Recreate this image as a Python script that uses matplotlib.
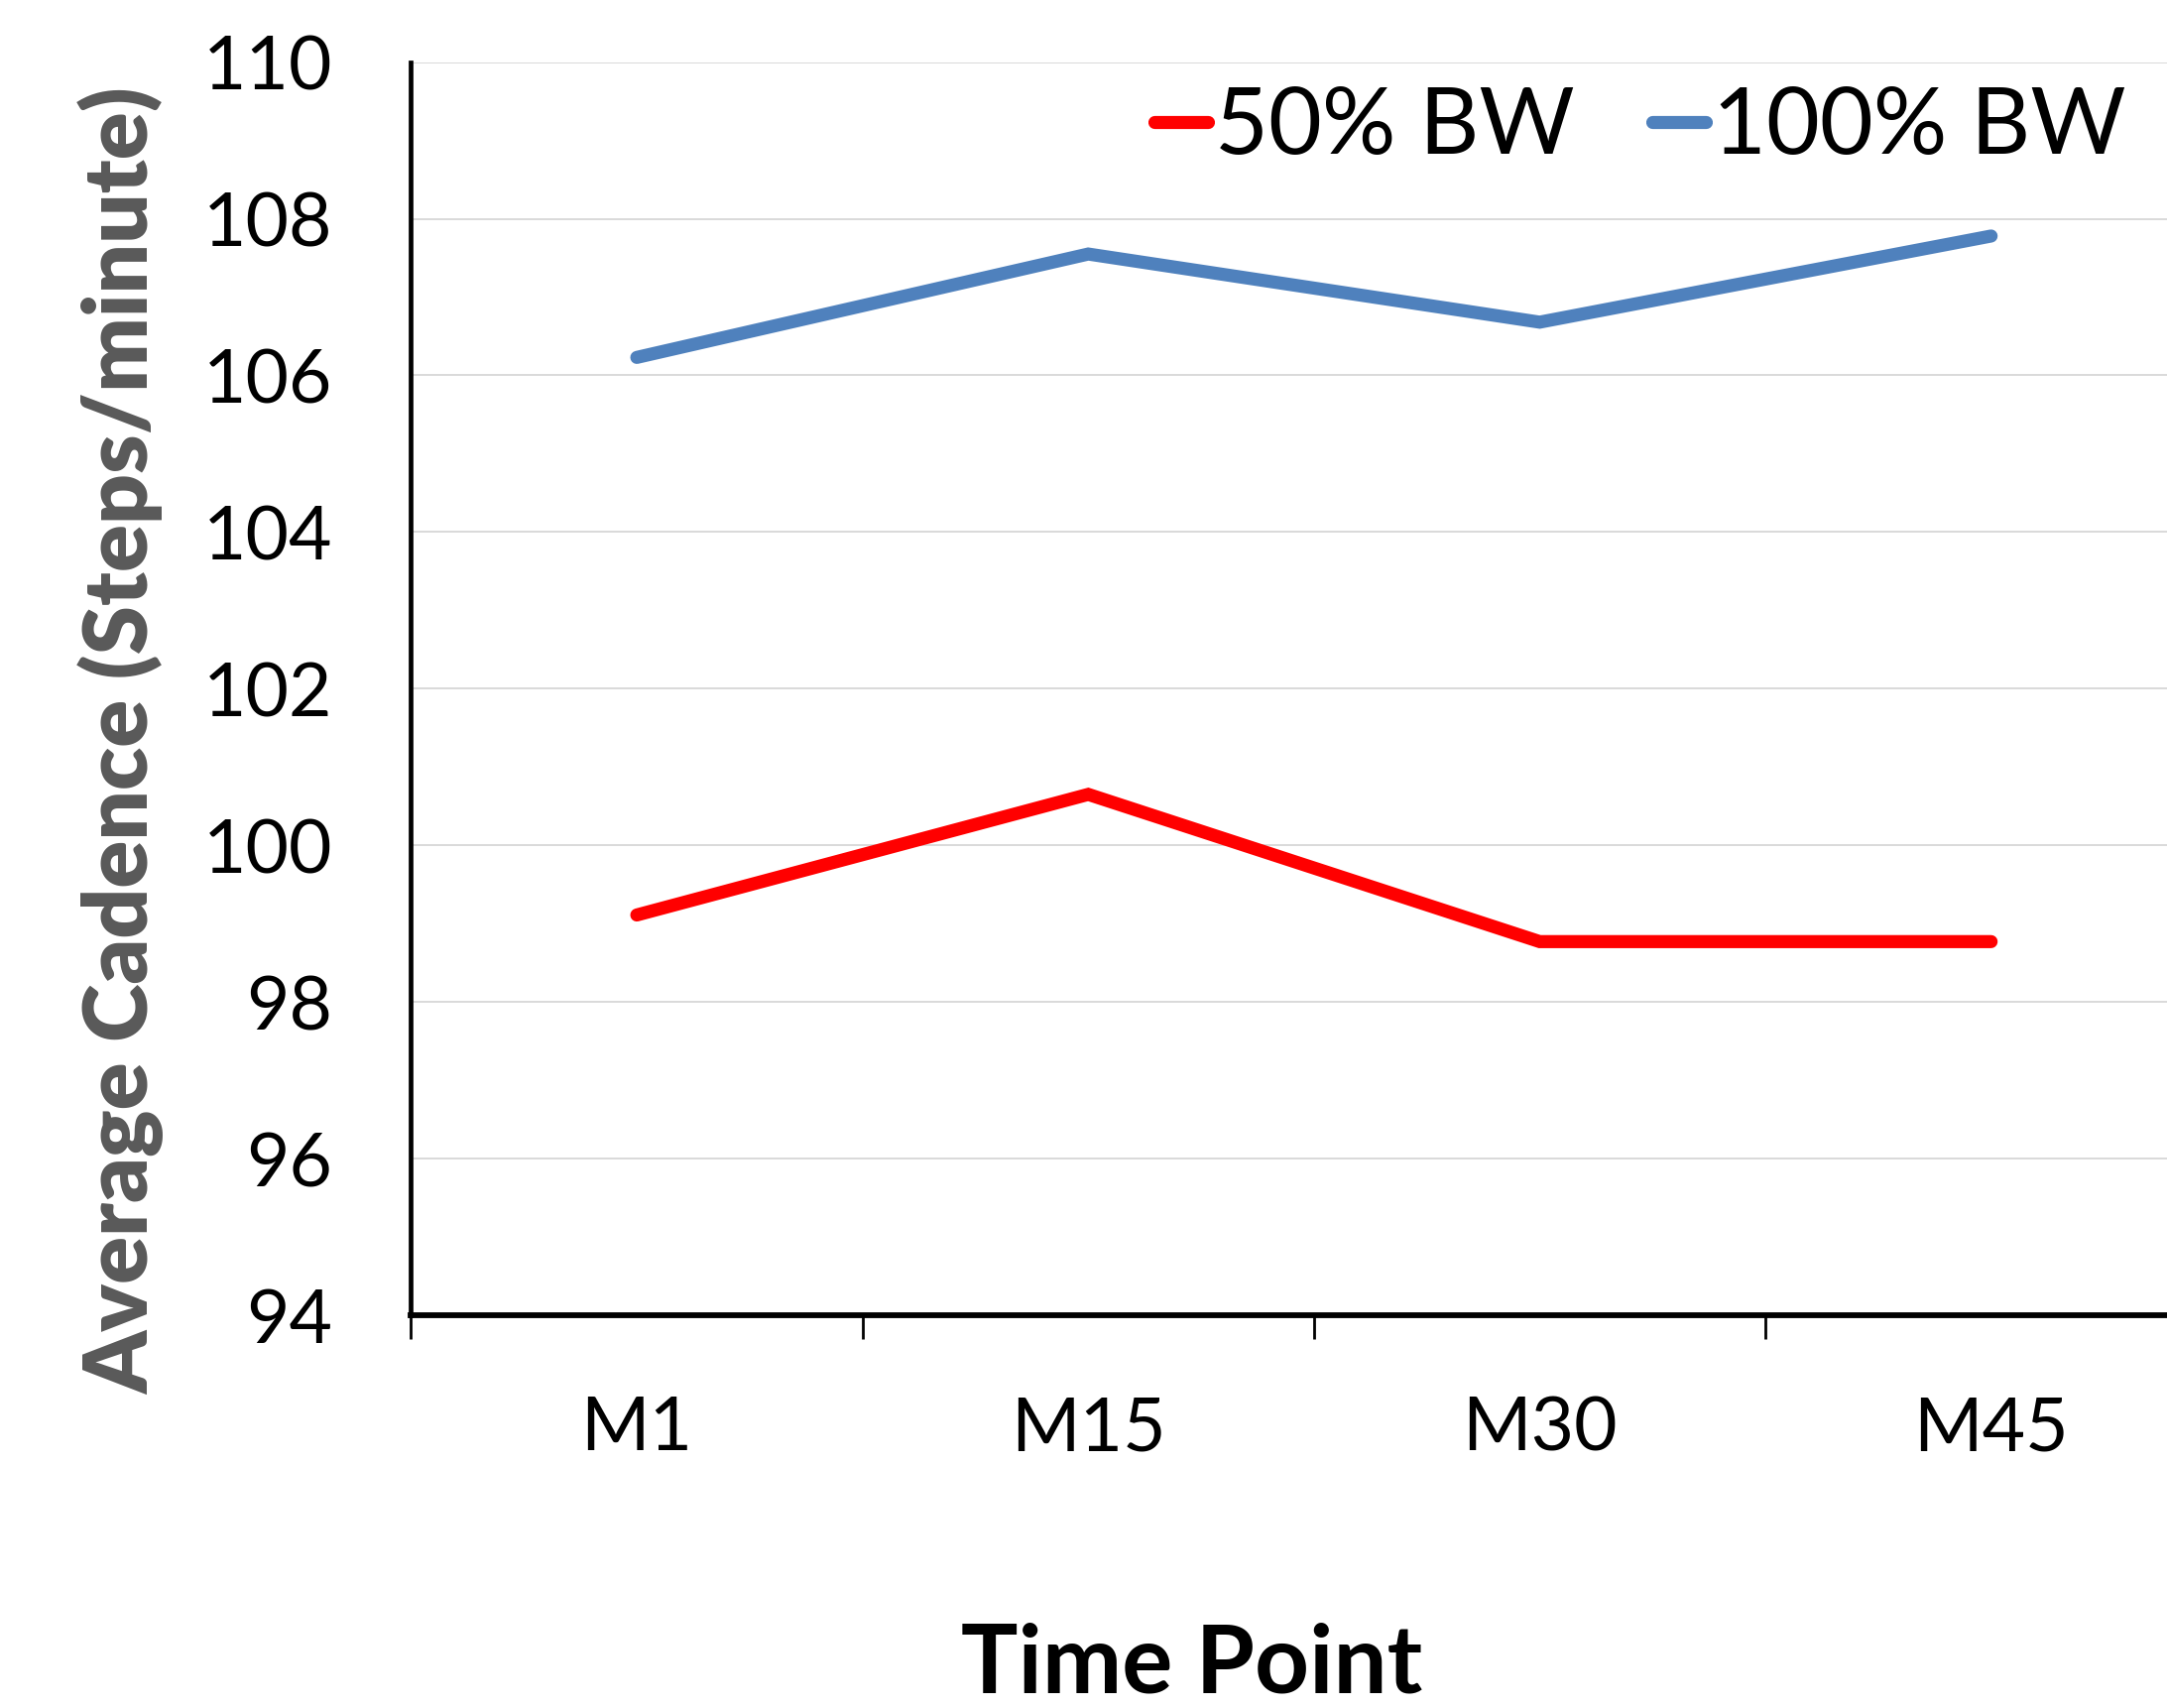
import matplotlib
matplotlib.use("Agg")
import matplotlib.pyplot as plt

# average cadence per time point, two loading conditions
time_points = ["M1", "M15", "M30", "M45"]
bw50 = [99.11, 100.65, 98.77, 98.77]
bw100 = [106.23, 107.55, 106.68, 107.78]
y_ticks = [94, 96, 98, 100, 102, 104, 106, 108, 110]

plt.rcParams['font.family'] = ['Lato', 'DejaVu Sans']

fig = plt.figure(figsize=(21.85, 17.22), dpi=100)
# the plot area runs past the right edge of the figure on purpose
ax = fig.add_axes([0.1897, 0.2300, 0.8333, 0.7336])

xs = [i + 0.5 for i in range(len(time_points))]
ax.plot(xs, bw50, color="#FF0000", lw=9.5, solid_capstyle="round",
        solid_joinstyle="miter", label="50% BW", zorder=3)
ax.plot(xs, bw100, color="#4F81BD", lw=9.5, solid_capstyle="round",
        solid_joinstyle="miter", label="100% BW", zorder=3)

ax.set_xlim(0, len(time_points))
ax.set_ylim(94, 110)
ax.set_yticks(y_ticks)
ax.set_yticklabels([str(v) for v in y_ticks], fontsize=54)
ax.yaxis.grid(True, color="#d9d9d9", lw=1.4)
ax.set_axisbelow(True)
ax.tick_params(axis="y", length=0, pad=57)

# category boundaries get the tick marks, names sit between them
ax.set_xticks(range(len(time_points) + 1))
ax.set_xticklabels([""] * (len(time_points) + 1))
ax.set_xticks(xs, minor=True)
ax.set_xticklabels(time_points, minor=True, fontsize=54)
ax.tick_params(axis="x", which="major", direction="out", length=17.5, width=2)
ax.tick_params(axis="x", which="minor", length=0, pad=58)

for side in ["top", "right"]:
    ax.spines[side].set_visible(False)
ax.spines["left"].set_linewidth(3.4)
ax.spines["bottom"].set_linewidth(4.2)

fig.text(0.056, 0.566, "Average Cadence (Steps/minute)", rotation=90,
         ha="center", va="center", fontsize=64, fontweight="heavy", color="#595959")
fig.text(0.550, 0.009, "Time Point", ha="center", va="baseline",
         fontsize=69, fontweight="bold", color="black")

fig.legend(loc="center right", bbox_to_anchor=(0.981, 0.925), ncol=2,
           frameon=False, fontsize=67, handlelength=0.58, handletextpad=0.07,
           columnspacing=0.85, borderaxespad=0, borderpad=0)

fig.savefig("out.png", dpi=100)
